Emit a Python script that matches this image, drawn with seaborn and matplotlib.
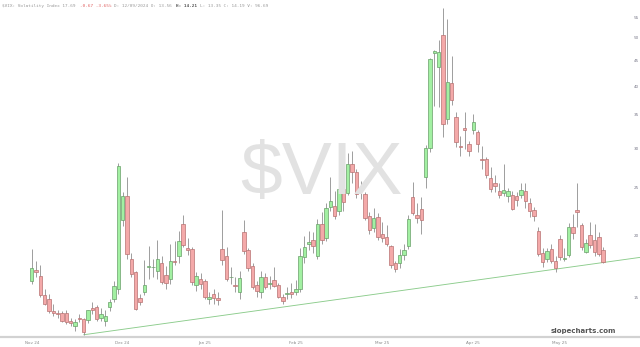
import numpy as np
import pandas as pd
import matplotlib
matplotlib.use("Agg")
import matplotlib.pyplot as plt
import seaborn as sns

# ---------------- data (daily VIX candles) ----------------
dates = ["Nov19","Nov20","Nov21","Nov22","Nov25","Nov26","Nov27","Nov29","Dec02","Dec03",
         "Dec04","Dec05","Dec06","Dec09","Dec10","Dec11","Dec12","Dec13","Dec16","Dec17",
         "Dec18","Dec19","Dec20","Dec23","Dec24","Dec26","Dec27","Dec30","Dec31","Jan02",
         "Jan03","Jan06","Jan07","Jan08","Jan10","Jan13","Jan14","Jan15","Jan16","Jan17",
         "Jan21","Jan22","Jan23","Jan24","Jan27","Jan28","Jan29","Jan30","Jan31","Feb03",
         "Feb04","Feb05","Feb06","Feb07","Feb10","Feb11","Feb12","Feb13","Feb14","Feb18",
         "Feb19","Feb20","Feb21","Feb24","Feb25","Feb26","Feb27","Feb28","Mar03","Mar04",
         "Mar05","Mar06","Mar07","Mar10","Mar11","Mar12","Mar13","Mar14","Mar17","Mar18",
         "Mar19","Mar20","Mar21","Mar24","Mar25","Mar26","Mar27","Mar28","Mar31","Apr01",
         "Apr02","Apr03","Apr04","Apr07","Apr08","Apr09","Apr10","Apr11","Apr14","Apr15",
         "Apr16","Apr17","Apr21","Apr22","Apr23","Apr24","Apr25","Apr28","Apr29","Apr30",
         "May01","May02","May05","May06","May07","May08","May09","May12","May13","May14",
         "May15","May16","May19","May20","May21","May22","May23","May27","May28","May29",
         "May30","Jun02","Jun03"]

opens = [16.2,17.1,16.6,15.2,14.9,14.1,14.0,14.0,14.0,13.5,
         13.2,13.7,13.6,13.56,14.3,14.4,13.7,13.5,14.4,14.9,
         15.6,21.5,24.0,18.0,16.9,15.0,15.4,17.3,17.3,17.0,
         17.6,16.7,16.4,17.8,18.2,21.1,18.9,18.8,15.9,16.4,
         16.2,14.9,15.3,15.0,18.8,18.2,16.5,15.9,15.4,20.4,
         18.7,17.4,15.9,15.4,16.5,16.0,16.3,15.9,15.1,15.3,
         15.4,15.4,15.6,18.1,19.3,19.6,18.2,21.1,19.8,22.9,
         23.0,22.4,24.9,24.4,27.9,26.9,24.9,24.3,21.9,20.7,
         21.8,20.2,19.9,19.1,17.6,17.6,18.3,19.1,23.9,22.0,
         22.6,26.3,30.0,46.7,43.7,50.7,34.3,40.6,34.6,30.3,
         33.0,30.6,32.6,32.3,28.6,28.5,26.2,25.6,24.6,24.4,
         24.0,24.2,24.0,24.2,24.6,23.3,22.5,20.5,18.5,18.0,
         18.8,17.8,19.7,18.0,18.3,20.8,22.5,21.0,18.6,20.1,
         19.6,19.9,18.7]

highs = [18.8,17.8,17.5,15.6,15.3,14.6,14.2,14.1,14.2,13.7,
         13.6,13.9,13.7,14.21,14.7,14.5,14.3,14.2,14.9,16.2,
         28.0,24.5,26.3,18.5,17.0,15.3,17.9,19.1,18.0,19.6,
         18.2,17.4,19.3,19.5,20.5,22.0,19.8,19.0,16.9,16.8,
         16.4,15.4,15.6,15.4,22.5,19.0,17.3,16.5,17.0,21.5,
         18.9,17.6,16.2,17.0,16.8,16.6,17.3,16.1,15.3,15.8,
         16.1,16.3,18.9,20.0,20.5,20.4,21.6,22.3,23.3,26.3,
         24.6,25.8,26.6,29.4,29.6,27.3,25.8,24.5,22.3,22.8,
         22.2,21.3,21.0,19.2,17.8,18.8,19.3,22.0,25.7,23.3,
         23.9,30.5,45.6,47.2,49.6,57.4,54.5,46.0,35.5,31.8,
         35.5,31.0,35.2,32.6,30.3,28.8,27.5,26.5,25.6,27.9,
         25.0,24.6,24.5,25.5,25.6,23.8,22.9,20.8,18.9,18.9,
         19.3,18.2,20.1,18.9,21.2,22.1,25.5,21.2,19.7,21.3,
         21.1,20.4,19.0]

lows = [16.0,16.5,15.1,14.5,14.0,13.8,13.7,13.4,13.3,13.2,
        12.9,13.4,12.65,13.35,13.9,13.5,13.5,13.2,14.1,14.7,
        15.3,20.9,18.0,16.5,14.2,14.5,15.2,16.4,16.5,16.4,
        16.0,15.6,16.0,17.5,17.6,19.0,18.3,15.9,15.5,15.6,
        14.9,14.6,14.6,14.5,17.5,16.2,16.0,15.4,14.9,18.4,
        17.0,15.6,15.1,15.0,15.6,15.6,15.8,15.0,14.6,14.9,
        15.0,15.2,15.4,17.6,18.7,18.5,18.0,19.3,19.5,22.4,
        21.6,22.0,22.4,24.2,25.6,23.8,23.7,21.5,20.2,20.4,
        19.6,19.4,19.1,17.2,16.9,17.2,17.9,18.8,22.0,21.2,
        20.2,25.0,29.5,36.5,36.3,31.6,33.5,36.6,30.2,29.0,
        29.9,29.0,32.0,29.5,27.2,26.2,24.5,24.5,23.8,24.0,
        23.4,22.5,23.0,23.8,22.8,21.8,21.4,18.2,17.3,17.7,
        17.6,16.9,17.9,17.8,18.1,19.7,20.8,18.7,18.5,18.9,
        18.2,18.2,17.6]

closes = [17.2,16.9,15.2,14.6,14.1,14.0,13.9,13.5,13.4,13.35,
          13.4,13.6,12.8,14.19,14.18,13.58,13.92,13.81,14.69,15.87,
          27.62,24.09,18.36,16.78,14.27,14.73,15.95,17.40,17.35,17.93,
          16.13,16.04,17.82,17.70,19.54,19.19,18.71,16.12,16.60,15.97,
          15.06,15.10,15.02,14.85,17.90,16.41,16.56,15.84,16.43,18.62,
          17.21,15.77,15.50,16.54,15.81,16.02,15.89,15.10,14.77,15.35,
          15.27,15.66,18.21,18.98,19.43,19.10,21.13,19.63,22.78,23.51,
          21.93,24.87,23.37,27.86,26.92,24.23,24.66,21.77,20.51,21.70,
          19.90,19.80,19.28,17.48,17.15,18.33,18.69,21.65,22.28,21.77,
          21.51,30.02,45.31,46.98,46.8,33.62,40.72,37.56,30.89,30.12,
          32.64,29.65,33.82,30.57,28.45,26.47,24.84,25.15,24.17,24.70,
          24.60,22.68,23.64,24.76,23.55,22.48,21.90,18.39,17.72,18.62,
          17.83,17.24,18.14,18.09,20.87,20.28,22.29,18.96,19.31,19.18,
          18.57,18.36,17.69]

y_ticks = [15, 20, 25, 30, 35, 40, 45, 50, 55]
x_tick_idx = [0, 21, 40, 61, 81, 102, 122]
x_tick_labels = ["Nov 24", "Dec 24", "Jan 25", "Feb 25", "Mar 25", "Apr 25", "May 25"]

# support trendline anchor points (index, value)
trend_x = [12, 140.5]
trend_y = [12.65, 18.1]

# ---------------- figure ----------------
sns.set_theme(style="white")
plt.rcParams["font.family"] = ["DejaVu Sans"]

df = pd.DataFrame({"date": dates, "open": opens, "high": highs,
                   "low": lows, "close": closes})
df["i"] = np.arange(len(df))
up = df["close"] >= df["open"]

W, H = 640, 347
fig = plt.figure(figsize=(W / 100, H / 100), dpi=100)
ax_bottom = 337
ax = fig.add_axes([0, (H - ax_bottom) / H, 1, ax_bottom / H])

ax.set_yscale("log")
ax.set_ylim(12.52, 59.6)
ax.set_xlim(-7.32, 140.5)

# wicks
ax.vlines(df["i"], df["low"], df["high"], color="#8e8e8e", lw=0.6, zorder=2)

# bodies
def body(sub, face, edge):
    h = (sub["close"] - sub["open"]).abs().clip(lower=0.05)
    b = sub[["open", "close"]].min(axis=1)
    ax.bar(sub["i"], h, bottom=b, width=0.8, color=face, edgecolor=edge,
           linewidth=0.5, zorder=3)

body(df[up], "#a2f0a2", "#6a9f6a")
body(df[~up], "#f4a9a9", "#b87272")

# trendline
sns.lineplot(x=trend_x, y=trend_y, ax=ax, color="#8ccc8c", lw=0.65, zorder=1)

# axes styling
for s in ["top", "left", "right"]:
    ax.spines[s].set_visible(False)
ax.spines["bottom"].set_color("#d2d2d2")
ax.spines["bottom"].set_linewidth(1.6)

ax.yaxis.tick_right()
ax.set_yticks(y_ticks)
ax.set_yticklabels([str(v) for v in y_ticks])
ax.yaxis.set_minor_locator(matplotlib.ticker.NullLocator())
ax.tick_params(axis="y", length=0, pad=-4.6, labelsize=3, labelcolor="#7a7a8a")

ax.set_xticks(x_tick_idx)
ax.set_xticklabels(x_tick_labels)
ax.tick_params(axis="x", length=0, pad=2.6, labelsize=3, labelcolor="#8a8a8a")
ax.grid(False)
ax.set_xlabel("")
ax.set_ylabel("")

# watermark
fig.text(321 / W, 1 - 194 / H, "$VIX", ha="center", va="baseline",
         fontsize=54, color="#e2e2e2", family="Liberation Sans", zorder=0)

# brand
fig.text(583 / W, 1 - 331 / H, "slopecharts.com", ha="center", va="center",
         fontsize=5, weight="bold", color="#555555")

# header line (monospace pieces)
fs = 3.2
cw = 0.602 * fs * 100 / 72 / W
pieces = [("$VIX: Volatility Index 17.69 ", "#9a9a9a", "normal"),
          ("-0.67 -3.65% ", "#e06060", "normal"),
          ("D: 12/09/2024 O: 13.56 ", "#9a9a9a", "normal"),
          ("H: 14.21 ", "#555555", "bold"),
          ("L: 13.35 C: 14.19 V: 96.69", "#9a9a9a", "normal")]
x0 = 2 / W
for txt, col, wt in pieces:
    fig.text(x0, 1 - 6 / H, txt, ha="left", va="center", fontsize=fs,
             color=col, weight=wt, family="DejaVu Sans Mono")
    x0 += len(txt) * cw

fig.savefig("out.png", dpi=100)
